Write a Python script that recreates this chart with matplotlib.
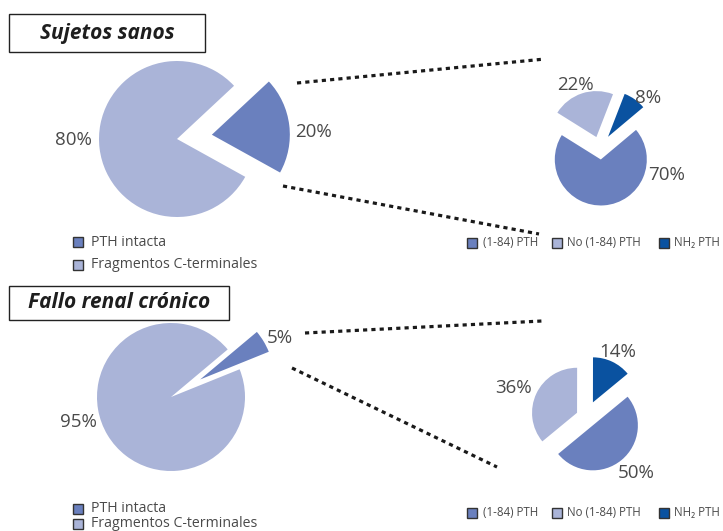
import matplotlib
matplotlib.use("Agg")
import matplotlib.pyplot as plt
from matplotlib.patches import Rectangle

plt.rcParams['font.family'] = ['Open Sans', 'DejaVu Sans']

W, H = 723, 531

# ---- data ----
panel_titles = ["Sujetos sanos", "Fallo renal crónico"]
main_labels = ["PTH intacta", "Fragmentos C-terminales"]
healthy_main = [20, 80]          # PTH intacta, C-terminal fragments
crf_main = [5, 95]
sub_labels = ["(1-84) PTH", "No (1-84) PTH", "NH₂ PTH"]
healthy_sub = [70, 22, 8]        # (1-84), No (1-84), NH2
crf_sub = [50, 36, 14]

C_LIGHT = "#aab4d8"
C_MED = "#6a80be"
C_DARK = "#0a52a0"
TXT = "#4a4a4a"

fig = plt.figure(figsize=(W / 100, H / 100), dpi=100)
ax = fig.add_axes([0, 0, 1, 1])


def Y(y):
    return H - y


def main_pie(vals, center, r, start, expl):
    ax.pie(vals, colors=[C_MED, C_LIGHT], startangle=start,
           center=(center[0], Y(center[1])), radius=r,
           explode=[expl * r, 0], wedgeprops=dict(linewidth=0))


def sub_pie(vals, center, r, start, expl):
    # drawn counter-clockwise starting with NH2, then No(1-84), then (1-84)
    v = [vals[2], vals[1], vals[0]]
    ax.pie(v, colors=[C_DARK, C_LIGHT, C_MED], startangle=start,
           center=(center[0], Y(center[1])), radius=r,
           explode=[expl[2] * r, expl[1] * r, expl[0] * r],
           wedgeprops=dict(linewidth=0))


# ---- top panel ----
main_pie(healthy_main, (177, 139), 78, -29, 0.45)
sub_pie(healthy_sub, (600, 148), 46, 40, [0.25, 0.25, 0.3])

# ---- bottom panel ----
main_pie(crf_main, (171, 397), 74, 22, 0.46)
sub_pie(crf_sub, (586, 417), 45, 39.5, [0.24, 0.22, 0.36])

# percent labels
def pct(v, x, y):
    ax.text(x, Y(y), f"{v}%", fontsize=13.5, color=TXT, ha="center", va="center")

pct(healthy_main[1], 73, 140)
pct(healthy_main[0], 313, 132)
pct(healthy_sub[1], 575, 85)
pct(healthy_sub[2], 648, 98)
pct(healthy_sub[0], 667, 175)
pct(crf_main[0], 280, 338)
pct(crf_main[1], 78, 422)
pct(crf_sub[1], 514, 388)
pct(crf_sub[2], 618, 352)
pct(crf_sub[0], 636, 473)

# dotted connector lines
dot = dict(color="#1a1a1a", linewidth=2.3, linestyle=(0, (1.3, 1.3)), solid_capstyle="butt")
for (x0, y0, x1, y1) in [(297, 83, 545, 59), (283, 186, 539, 234),
                         (305, 333, 542, 321), (292, 368, 497, 467)]:
    ax.plot([x0, x1], [Y(y0), Y(y1)], **dot)

# title boxes
for (x0, y0, x1, y1), t in zip([(9, 14, 205, 52), (9, 286, 229, 320)], panel_titles):
    ax.add_patch(Rectangle((x0, Y(y1)), x1 - x0, y1 - y0, fill=False,
                           edgecolor="#222222", linewidth=1.0))
    ax.text((x0 + x1) / 2, Y((y0 + y1) / 2), t, fontsize=15, fontweight="bold",
            fontstyle="italic", color="#1e1e1e", ha="center", va="center")

# left legends
def left_legend(ys):
    for yy, lab, col in zip(ys, main_labels, [C_MED, C_LIGHT]):
        ax.add_patch(Rectangle((73, Y(yy + 5)), 10, 10, facecolor=col,
                               edgecolor="#333333", linewidth=1.0))
        ax.text(91, Y(yy), lab, fontsize=10.2, color=TXT, ha="left", va="center")

left_legend([242, 265])
left_legend([508.5, 523.5])

# right legends
def right_legend(y):
    xs_box = [467, 552, 659]
    xs_txt = [483, 567, 674]
    for xb, xt, lab, col in zip(xs_box, xs_txt, sub_labels, [C_MED, C_LIGHT, C_DARK]):
        ax.add_patch(Rectangle((xb, Y(y + 5)), 10, 10, facecolor=col,
                               edgecolor="#333333", linewidth=1.0))
        ax.text(xt, Y(y), lab, fontsize=8.3, color=TXT, ha="left", va="center")

right_legend(243)
right_legend(513)

ax.set_xlim(0, W)
ax.set_ylim(0, H)
ax.set_aspect("auto")
ax.axis("off")
fig.savefig("out.png", dpi=100, facecolor="white")
